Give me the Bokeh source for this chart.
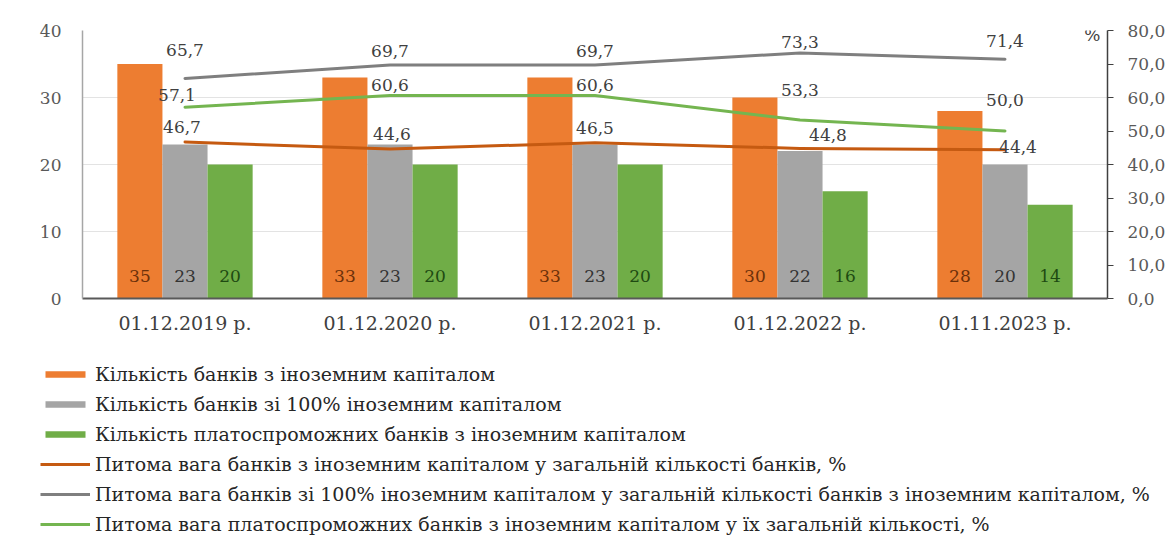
from bokeh.plotting import figure
from bokeh.layouts import column
from bokeh.models import (ColumnDataSource, Range1d, LinearAxis, FixedTicker, Legend,
                          LegendItem, Label, FactorRange, CustomJSTickFormatter)
from bokeh.transform import dodge
from bokeh.core.properties import value
from bokeh.embed import file_html
from bokeh.resources import INLINE

# ---- data ----
categories = ["01.12.2019 р.", "01.12.2020 р.", "01.12.2021 р.", "01.12.2022 р.", "01.11.2023 р."]
banks_foreign = [35, 33, 33, 30, 28]
banks_100 = [23, 23, 23, 22, 20]
banks_solvent = [20, 20, 20, 16, 14]
share_foreign = [46.7, 44.6, 46.5, 44.8, 44.4]
share_100 = [65.7, 69.7, 69.7, 73.3, 71.4]
share_solvent = [57.1, 60.6, 60.6, 53.3, 50.0]
left_ticks = [0, 10, 20, 30, 40]
right_ticks = [0, 10, 20, 30, 40, 50, 60, 70, 80]
series_names = [
    "Кількість банків з іноземним капіталом",
    "Кількість банків зі 100% іноземним капіталом",
    "Кількість платоспроможних банків з іноземним капіталом",
    "Питома вага банків з іноземним капіталом у загальній кількості банків, %",
    "Питома вага банків зі 100% іноземним капіталом у загальній кількості банків з іноземним капіталом, %",
    "Питома вага платоспроможних банків з іноземним капіталом у їх загальній кількості, %",
]

# label placement (pixels)
dx_foreign = [-3, 2, 0, 28, 13]
dy_foreign = [-15, -15, -15, -13, -3]
dx_100 = [0, 0, 0, 0, 0]
dy_100 = [-28, -14, -14, -11, -18]
dx_solvent = [-8, 0, 0, 0, 0]
dy_solvent = [-12, -10, -10, -30, -31]

FONT = "DejaVu Serif"
C_OR, C_GR, C_GN = "#ED7D31", "#A5A5A5", "#70AD47"
L_OR, L_GR, L_GN = "#C55A11", "#7F7F7F", "#74B550"


def fmt(v):
    return f"{v:.1f}".replace(".", ",")


src = ColumnDataSource(dict(
    cat=categories,
    foreign=banks_foreign, b100=banks_100, solvent=banks_solvent,
    foreign_t=[str(v) for v in banks_foreign],
    b100_t=[str(v) for v in banks_100],
    solvent_t=[str(v) for v in banks_solvent],
    s_foreign=share_foreign, s_100=share_100, s_solvent=share_solvent,
    s_foreign_t=[fmt(v) for v in share_foreign],
    s_100_t=[fmt(v) for v in share_100],
    s_solvent_t=[fmt(v) for v in share_solvent],
    dxf=dx_foreign, dyf=dy_foreign, dx1=dx_100, dy1=dy_100, dxs=dx_solvent, dys=dy_solvent,
))

TOP_H = 336
p = figure(x_range=FactorRange(factors=categories), y_range=Range1d(0, 40),
           width=1170, height=TOP_H, output_backend="svg", toolbar_location=None,
           min_border_left=82, min_border_right=63, min_border_top=30,
           min_border_bottom=TOP_H - 298)
p.frame_align = False
p.extra_y_ranges = {"pct": Range1d(0, 80)}
p.outline_line_color = None
p.background_fill_color = "white"
p.border_fill_color = "white"

W = 0.22
p.vbar(x=dodge("cat", -W, range=p.x_range), top="foreign", width=W, source=src,
       fill_color=C_OR, line_color=None)
p.vbar(x=dodge("cat", 0, range=p.x_range), top="b100", width=W, source=src,
       fill_color=C_GR, line_color=None)
p.vbar(x=dodge("cat", W, range=p.x_range), top="solvent", width=W, source=src,
       fill_color=C_GN, line_color=None)

for off, col, tc in [(-W, "foreign_t", "#6B300A"), (0, "b100_t", "#333333"), (W, "solvent_t", "#1E4A12")]:
    p.text(x=dodge("cat", off, range=p.x_range), y=0, text=col, source=src, y_offset=-23,
           text_align="center", text_baseline="middle", text_font=value(FONT),
           text_font_size="17px", text_color=tc)

p.line(x="cat", y="s_foreign", source=src, y_range_name="pct", line_color=L_OR,
       line_width=3, line_join="round", line_cap="round")
p.line(x="cat", y="s_100", source=src, y_range_name="pct", line_color=L_GR,
       line_width=3, line_join="round", line_cap="round")
p.line(x="cat", y="s_solvent", source=src, y_range_name="pct", line_color=L_GN,
       line_width=3, line_join="round", line_cap="round")

for ycol, tcol, dxc, dyc in [("s_foreign", "s_foreign_t", "dxf", "dyf"),
                             ("s_100", "s_100_t", "dx1", "dy1"),
                             ("s_solvent", "s_solvent_t", "dxs", "dys")]:
    p.text(x="cat", y=ycol, text=tcol, source=src, y_range_name="pct",
           x_offset=dxc, y_offset=dyc, text_align="center", text_baseline="middle",
           text_font=value(FONT), text_font_size="17px", text_color="#404040")

# axes
p.yaxis.ticker = FixedTicker(ticks=left_ticks)
p.yaxis.major_tick_out = 0
p.yaxis.major_tick_in = 0
p.yaxis.minor_tick_out = 0
p.yaxis.minor_tick_in = 0
p.yaxis.axis_line_color = "#A6A6A6"
p.yaxis.axis_line_width = 1.5
p.yaxis.major_label_standoff = 21
p.yaxis.major_label_text_font = FONT
p.yaxis.major_label_text_font_size = "17px"
p.yaxis.major_label_text_color = "#595959"

p.xaxis.major_tick_out = 0
p.xaxis.major_tick_in = 0
p.xaxis.axis_line_color = "#595959"
p.xaxis.axis_line_width = 2
p.xaxis.major_label_standoff = 13
p.xaxis.major_label_text_font = FONT
p.xaxis.major_label_text_font_size = "19px"
p.xaxis.major_label_text_color = "#404040"

ra = LinearAxis(y_range_name="pct", ticker=FixedTicker(ticks=right_ticks),
                formatter=CustomJSTickFormatter(code="return tick.toFixed(1).replace('.', ',');"))
ra.major_tick_out = 6
ra.major_tick_in = 0
ra.minor_tick_out = 0
ra.minor_tick_in = 0
ra.axis_line_color = "#404040"
ra.axis_line_width = 1.5
ra.major_tick_line_color = "#404040"
ra.major_label_standoff = 14
ra.major_label_text_font = FONT
ra.major_label_text_font_size = "17px"
ra.major_label_text_color = "#595959"
p.add_layout(ra, "right")

p.xgrid.grid_line_color = None
p.ygrid.ticker = FixedTicker(ticks=left_ticks)
p.ygrid.grid_line_color = "#E3E3E3"
p.ygrid.grid_line_width = 1

p.add_layout(Label(x=5, y=80, y_range_name="pct", text="%", x_offset=-7, y_offset=-4,
                   text_align="right", text_baseline="middle", text_font=FONT,
                   text_font_size="17px", text_color="#404040"))

# ---- legend panel (separate figure below the chart) ----
BOT_H = 538 - TOP_H
q = figure(width=1170, height=BOT_H, output_backend="svg", toolbar_location=None,
           x_range=Range1d(0, 1), y_range=Range1d(0, 1),
           x_axis_location=None, y_axis_location=None,
           min_border_left=0, min_border_right=0, min_border_top=0, min_border_bottom=0)
q.frame_align = False
q.outline_line_color = None
q.xgrid.grid_line_color = None
q.ygrid.grid_line_color = None
# legend swatches only (kept outside the visible range)
g0 = q.vbar(x=[-5], top=[-5], width=0.1, fill_color=C_OR, line_color=None)
g1 = q.vbar(x=[-5], top=[-5], width=0.1, fill_color=C_GR, line_color=None)
g2 = q.vbar(x=[-5], top=[-5], width=0.1, fill_color=C_GN, line_color=None)
g3 = q.line(x=[-5, -4], y=[-5, -5], line_color=L_OR, line_width=3)
g4 = q.line(x=[-5, -4], y=[-5, -5], line_color=L_GR, line_width=3)
g5 = q.line(x=[-5, -4], y=[-5, -5], line_color=L_GN, line_width=3)

legend = Legend(items=[LegendItem(label=series_names[i], renderers=[g])
                       for i, g in enumerate([g0, g1, g2, g3, g4, g5])],
                location=(40, 3), orientation="vertical",
                glyph_width=50, glyph_height=8, label_height=22, spacing=8,
                padding=0, margin=0, border_line_color=None, background_fill_alpha=0,
                label_text_font=FONT, label_text_font_size="19px", label_standoff=5,
                label_text_color="#262626")
q.add_layout(legend)

open("out.html", "w").write(file_html(column(p, q, spacing=0), INLINE))
